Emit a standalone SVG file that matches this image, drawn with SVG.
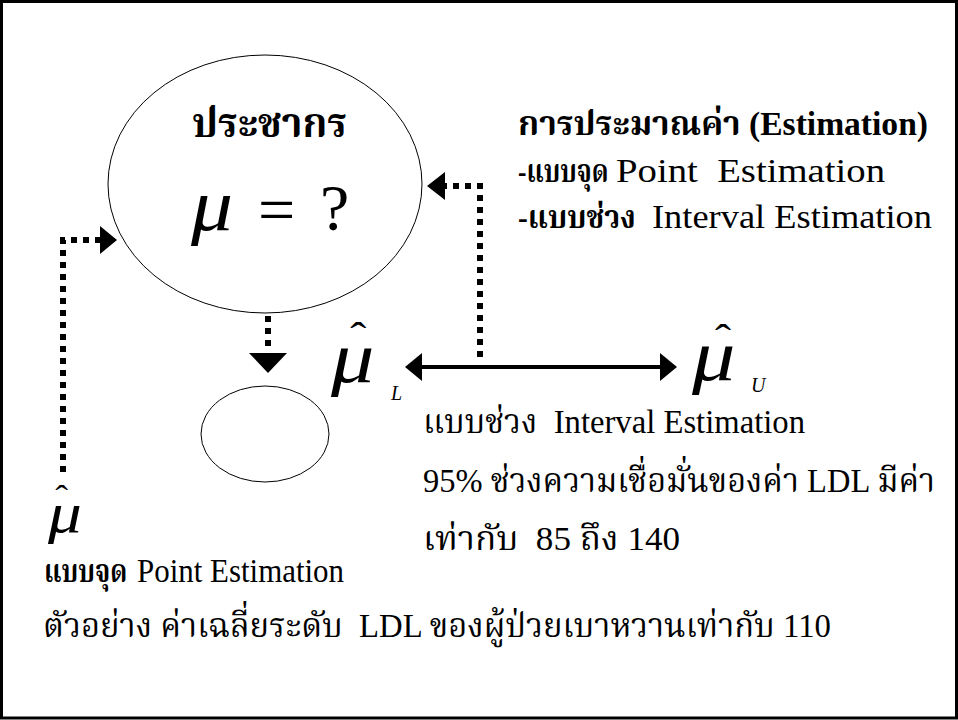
<svg xmlns="http://www.w3.org/2000/svg" width="958" height="720" viewBox="0 0 958 720">
<defs>
<style>
.th{font-family:"Liberation Serif","Noto Serif Thai","Noto Sans Thai","Tlwg Typo",serif;font-size:34px;fill:#000}
.b{font-weight:bold}
.m{font-family:"Liberation Serif","Times New Roman",serif;font-style:italic;fill:#000}
.hat{font-family:"Liberation Serif","Times New Roman",serif;font-style:normal;fill:#000}
.dot{fill:none;stroke:#000;stroke-width:6;stroke-dasharray:6 6}
.solid{fill:none;stroke:#000;stroke-width:4}
.node{fill:#fff;stroke:#000;stroke-width:1}
</style>
</defs>
<rect x="1.5" y="1.5" width="955" height="716.5" fill="#fff" stroke="#000" stroke-width="3"/>

<g id="population">
<ellipse class="node" cx="265" cy="184" rx="157" ry="129"/>
<text class="th b" x="192" y="137" style="font-size:40px" textLength="155" lengthAdjust="spacingAndGlyphs">ประชากร</text>
<text class="m" x="191" y="230" font-size="74" textLength="42" lengthAdjust="spacingAndGlyphs">μ</text>
<text class="hat" x="258" y="232" font-size="66">=</text>
<text class="hat" x="320" y="230" font-size="66">?</text>
</g>

<g id="sample">
<ellipse class="node" cx="265" cy="434" rx="64" ry="48"/>
</g>

<g id="mu-hat-L">
<text class="m" transform="matrix(1.2 0 0 1 331 382)" font-size="72">μ<tspan class="hat" dx="-20" dy="-32" font-size="40">ˆ</tspan></text>
<text class="m" x="391" y="400" font-size="20">L</text>
</g>

<g id="mu-hat-U">
<text class="m" transform="matrix(1.2 0 0 1 692 380)" font-size="72">μ<tspan class="hat" dx="-17" dy="-28" font-size="40">ˆ</tspan></text>
<text class="m" x="751" y="392" font-size="20">U</text>
</g>

<g id="mu-hat-point">
<text class="m" transform="matrix(1.2 0 0 1 48 532)" font-size="56">μ<tspan class="hat" dx="-22" dy="-25" font-size="32">ˆ</tspan></text>
</g>

<g id="estimation-legend">
<text class="th b" xml:space="preserve" x="518" y="135" textLength="410" lengthAdjust="spacingAndGlyphs">การประมาณค่า (Estimation)</text>
<text class="th b" transform="matrix(0.79 0 0 1 518 182)" style="font-size:32px">-แบบจุด</text>
<text class="th" xml:space="preserve" x="616" y="182" textLength="269" lengthAdjust="spacingAndGlyphs">Point  Estimation</text>
<text class="th b" transform="matrix(0.92 0 0 1 518 228)" style="font-size:32px">-แบบช่วง</text>
<text class="th" x="652" y="228" textLength="280" lengthAdjust="spacingAndGlyphs">Interval Estimation</text>
</g>

<g id="interval-label">
<text class="th" xml:space="preserve" x="423" y="433" textLength="382" lengthAdjust="spacingAndGlyphs">แบบช่วง  Interval Estimation</text>
<text class="th" xml:space="preserve" x="423" y="492" textLength="512" lengthAdjust="spacingAndGlyphs">95% ช่วงความเชื่อมั่นของค่า LDL มีค่า</text>
<text class="th" xml:space="preserve" x="423" y="550" textLength="257" lengthAdjust="spacingAndGlyphs">เท่ากับ  85 ถึง 140</text>
</g>

<g id="point-label">
<text class="th b" transform="matrix(0.8 0 0 1 44 582)" style="font-size:32px">แบบจุด</text>
<text class="th" x="137" y="582" textLength="207" lengthAdjust="spacingAndGlyphs">Point Estimation</text>
<text class="th" xml:space="preserve" x="43" y="637" textLength="788" lengthAdjust="spacingAndGlyphs">ตัวอย่าง ค่าเฉลี่ยระดับ  LDL ของผู้ป่วยเบาหวานเท่ากับ 110</text>
</g>

<g id="connectors">
<path class="dot" d="M268 316 V352"/>
<polygon points="249,353 287,353 268,373" fill="#000"/>
<path class="dot" d="M63 472 V240 H100"/>
<polygon points="100,226 117,240 100,254" fill="#000"/>
<path class="dot" d="M480 357 V186 H445"/>
<polygon points="445,172 427,186 445,200" fill="#000"/>
<path class="solid" d="M420 367 H662"/>
<polygon points="422,353 405,367 422,381" fill="#000"/>
<polygon points="660,353 677,367 660,381" fill="#000"/>
</g>
</svg>
